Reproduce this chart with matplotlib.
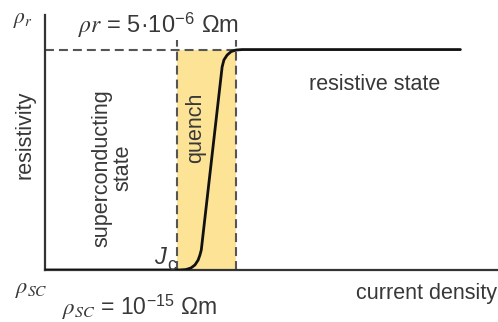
import matplotlib
matplotlib.use("Agg")
import matplotlib.pyplot as plt

plt.rcParams['font.family'] = ['Liberation Sans', 'DejaVu Sans']
plt.rcParams['mathtext.fontset'] = 'stix'

# ---- data (schematic units: x = current density, y = resistivity / rho_r) ----
curve_j = [0.0, 2.98, 3.11, 3.22, 3.31, 3.38, 3.42, 3.45, 3.91, 3.95,
           4.02, 4.11, 4.22, 4.35, 9.17]
curve_rho = [0.0, 0.0, 0.002, 0.009, 0.023, 0.045, 0.068, 0.091, 0.923, 0.955,
             0.977, 0.993, 1.0, 1.002, 1.002]
j_c = 2.91          # critical current density
j_q = 4.22          # end of quench region
rho_r = 1.0         # resistive-state level
dash_top = 1.045

W, H = 498, 322
fig = plt.figure(figsize=(W / 100, H / 100), dpi=100)
ax = fig.add_axes([45 / W, (H - 270) / H, 453 / W, 255 / H])
ax.set_xlim(0, 10)
ax.set_ylim(0, 255 / 220)
for s in ['top', 'right']:
    ax.spines[s].set_visible(False)
for s in ['left', 'bottom']:
    ax.spines[s].set_linewidth(1.6)
    ax.spines[s].set_color('#333333')
ax.set_xticks([])
ax.set_yticks([])

ink = '#383838'
dash_col = '#555555'
dash = (0, (4.3, 2.4))

ax.fill_between([j_c, j_q], 0, rho_r, color='#fce396', lw=0, zorder=1)
ax.plot([0, j_q], [rho_r, rho_r], ls=dash, color=dash_col, lw=1.5, zorder=2)
ax.plot([j_c, j_c], [0, dash_top], ls=dash, color=dash_col, lw=1.5, zorder=2)
ax.plot([j_q, j_q], [0, dash_top], ls=dash, color=dash_col, lw=1.5, zorder=2)
ax.plot(curve_j, curve_rho, color='#111111', lw=2.0, solid_capstyle='round',
        solid_joinstyle='round', zorder=3)


def t(px, py, s, **kw):
    kw.setdefault('color', ink)
    kw.setdefault('ha', 'center')
    kw.setdefault('va', 'center')
    fig.text(px / W, 1 - py / H, s, **kw)


t(23, 19, r"$\rho_{r}$", fontsize=15.5)
t(158, 25, r"$\rho r$ = 5·10$^{\mathregular{-6}}$ Ωm", fontsize=17)
t(375, 85, "resistive state", fontsize=15.5)
t(25, 135, "resistivity", fontsize=15.5, rotation=90)
t(112, 168, "superconducting\nstate", fontsize=15.5, rotation=90, linespacing=1.0)
t(196, 128, "quench", fontsize=15.5, rotation=90)
t(160, 258, "J", fontsize=17, style='italic')
t(172, 266, "c", fontsize=13)
t(31, 289, r"$\rho_{SC}$", fontsize=16)
t(140, 307, r"$\rho_{SC}$ = 10$^{\mathregular{-15}}$ Ωm", fontsize=16.5)
t(426, 293, "current density", fontsize=15.5)

fig.savefig("out.png", dpi=100)
